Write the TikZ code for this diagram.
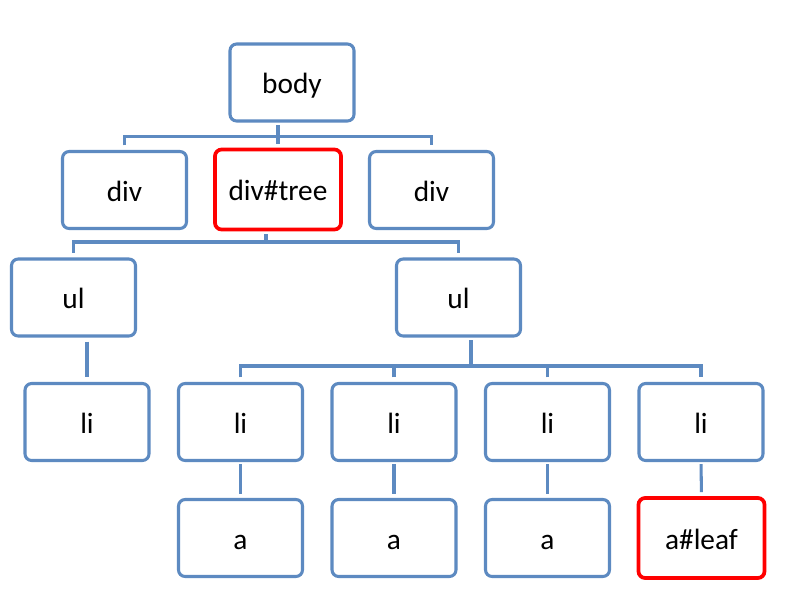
\documentclass[tikz,border=0pt]{standalone}
\usepackage{fontspec}
\setmainfont{Carlito}
\definecolor{boxblue}{RGB}{93,138,193}
\definecolor{hitred}{RGB}{255,0,0}
\begin{document}
\begin{tikzpicture}[x=0.75pt,y=-0.75pt,
  box/.style={draw=boxblue,line width=2.3pt,rounded corners=5pt,fill=white,
    minimum width=93pt,minimum height=57.75pt,text height=20pt,text depth=3.5pt,
    font=\fontsize{22}{26}\selectfont},
  hit/.style={box,draw=hitred,line width=2.8pt,minimum width=94.5pt,minimum height=60pt},
  wire/.style={draw=boxblue,line width=2.3pt}]
\useasboundingbox[fill=white] (0,0) rectangle (800,611);
% boxes
\node[box] (body) at (292,82.5) {body};
\node[box] (d1) at (124.5,190) {div};
\node[hit] (tree) at (278,189.5) {div\#tree};
\node[box] (d3) at (431.5,190) {div};
\node[box] (ul1) at (73.5,297.5) {ul};
\node[box] (ul2) at (458.5,297.5) {ul};
\node[box] (li1) at (87,422) {li};
\foreach \x/\n in {240.5/2,394/3,547.5/4,701/5}{
	\node[box] (li\n) at (\x,422) {li};}
\foreach \x/\n in {240.5/2,394/3,547.5/4}{
	\node[box] (a\n) at (\x,538) {a};}
\node[hit] (leaf) at (701.5,538) {a\#leaf};
% buses
\coordinate (j1) at (278,136.5);
\coordinate (j2) at (266,242);
\coordinate (j3) at (471,366);
\draw[wire,shorten <=2pt] (body.south -| j1) -- (j1);
\draw[wire,shorten <=3.5pt,shorten >=3.5pt] (d1.north) |- (j1) -| (d3.north);
\draw[wire,shorten <=3pt] (tree.north) -- (j1);
\draw[wire,shorten <=2pt] (tree.south -| j2) -- (j2);
\draw[wire,shorten <=3.5pt,shorten >=3.5pt] (ul1.north) |- (j2) -| (ul2.north);
\draw[wire,shorten <=3pt,shorten >=3.5pt] (li1.north |- ul1.south) -- (li1.north);
\draw[wire,shorten <=2pt] (ul2.south -| j3) -- (j3);
\draw[wire,shorten <=3.5pt,shorten >=3.5pt] (li2.north) |- (j3) -| (li5.north);
\foreach \n in {3,4}{
	\draw[wire,shorten <=3.5pt] (li\n.north) -- (li\n.north |- j3);}
\foreach \n in {2,3,4}{
	\draw[wire,shorten <=1.5pt,shorten >=3pt] (li\n.south) -- (a\n.north);}
\draw[wire,shorten <=1.5pt,shorten >=3pt] (li5.south) -- (leaf.north);
\end{tikzpicture}
\end{document}
